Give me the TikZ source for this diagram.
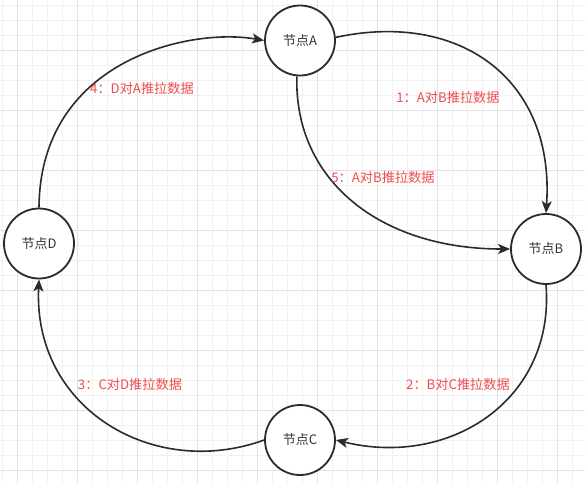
\documentclass[tikz,border=0pt]{standalone}
\usepackage{fontspec}
\setmainfont{Noto Sans CJK SC}
\usetikzlibrary{arrows.meta}
\definecolor{gridminor}{HTML}{F1F1F1}
\definecolor{gridmajor}{HTML}{E2E2E2}
\definecolor{edgecol}{HTML}{2B2B2B}
\definecolor{nodetext}{HTML}{333333}
\definecolor{labelred}{HTML}{F04B4B}
\begin{document}
\begin{tikzpicture}[x=1pt,y=-1pt,
  nodecirc/.style={circle,draw=edgecol,line width=1.8pt,minimum size=70pt,inner sep=0pt,fill=white,font=\fontsize{13}{15}\selectfont,text=nodetext},
  edge/.style={draw=edgecol,line width=1.6pt,-{Stealth[length=12pt,width=10pt,inset=3pt]}},
  lbl/.style={text=labelred,font=\fontsize{13.2}{15}\selectfont,inner sep=0pt},
  minorline/.style={draw=gridminor,line width=0.8pt},
  majorline/.style={draw=gridmajor,line width=0.8pt}]
\useasboundingbox (0,0) rectangle (585,483);
\fill[white] (0,0) rectangle (585,483);
\foreach \i in {0,...,38} \draw[minorline] ({2+15*\i},0) -- ({2+15*\i},483);
\foreach \i in {0,...,32} \draw[minorline] (0,{5+15*\i}) -- (585,{5+15*\i});
\foreach \i in {0,...,9} \draw[majorline] ({17+60*\i},0) -- ({17+60*\i},483);
\foreach \i in {0,...,7} \draw[majorline] (0,{50+60*\i}) -- (585,{50+60*\i});

\node[nodecirc] (A) at (300,40.5) {节点A};
\node[nodecirc] (B) at (546,249) {节点B};
\node[nodecirc] (C) at (300,440) {节点C};
\node[nodecirc] (D) at (39,243.5) {节点D};

\draw[edge] (A.5) .. controls +(125,-27) and +(9,-133) .. (B.north);
\draw[edge] (A.265) .. controls +(-3,104) and +(-130,0) .. (B.west);
\draw[edge] (B.south) .. controls +(9,115) and +(114,28) .. (C.east);
\draw[edge] (C.west) .. controls +(-110,40) and +(-6,130) .. (D.south);
\draw[edge] (D.north) .. controls +(1,-148) and +(-74,-13) .. (A.west);

\node[lbl] (l1) at (448,97) {1：A对B推拉数据};
\node[lbl] (l5) at (383,177) {5：A对B推拉数据};
\node[lbl] (l2) at (458,384) {2：B对C推拉数据};
\node[lbl] (l3) at (130,384) {3：C对D推拉数据};
\node[lbl] (l4) at (142,88) {4：D对A推拉数据};
\end{tikzpicture}
\end{document}
